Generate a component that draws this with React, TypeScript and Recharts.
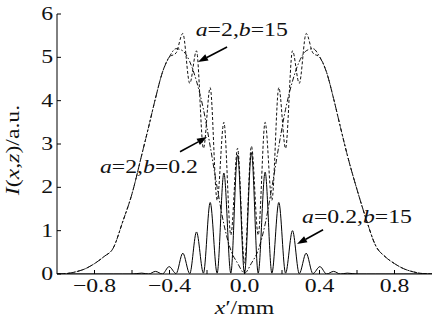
import { LineChart, Line, XAxis, YAxis, ReferenceLine, ReferenceDot } from "recharts";

// x' positions (mm)
const xs = [
  -1.0, -0.95, -0.9, -0.85, -0.8, -0.75, -0.7, -0.65, -0.6,
  -0.548, -0.511, -0.475, -0.438, -0.402, -0.365, -0.329, -0.292, -0.256,
  -0.219, -0.183, -0.146, -0.11, -0.073, -0.037, 0, 0.037, 0.073, 0.11,
  0.146, 0.183, 0.219, 0.256, 0.292, 0.329, 0.365, 0.402, 0.438, 0.475,
  0.511, 0.548, 0.6, 0.65, 0.7, 0.75, 0.8, 0.85, 0.9, 0.95, 1.0,
];

// a=2, b=0.2 (dash-dot)
const iA = [
  0, 0.01, 0.05, 0.12, 0.24, 0.4, 0.6, 1.2, 1.85,
  2.75, 3.4, 4.05, 4.65, 5.0, 5.2, 5.15, 4.9, 4.45,
  3.8, 2.95, 2.0, 1.15, 0.55, 0.25, 0.02, 0.25, 0.55, 1.15,
  2.0, 2.95, 3.8, 4.45, 4.9, 5.15, 5.2, 5.0, 4.65, 4.05,
  3.4, 2.75, 1.95, 1.25, 0.65, 0.4, 0.24, 0.12, 0.05, 0.01, 0,
];

// a=2, b=15 (dotted)
const iB = [
  0, 0.01, 0.05, 0.12, 0.24, 0.4, 0.6, 1.2, 1.85,
  2.75, 3.4, 4.05, 4.65, 5.0, 5.1, 5.55, 4.4, 5.15,
  2.9, 4.3, 1.7, 3.5, 0.9, 2.9, 0.25, 2.95, 0.9, 3.5,
  1.7, 4.3, 2.9, 5.15, 4.4, 5.55, 5.1, 5.0, 4.65, 4.05,
  3.4, 2.75, 1.95, 1.25, 0.65, 0.4, 0.24, 0.12, 0.05, 0.01, 0,
];

// a=0.2, b=15 (solid)
const iC = [
  0, 0, 0, 0, 0, 0, 0, 0, 0,
  0.02, 0, 0.06, 0, 0.17, 0.01, 0.48, 0.01, 0.97,
  0.02, 1.65, 0.02, 2.33, 0.02, 2.75, 0.02, 2.8, 0.02, 2.35,
  0.02, 1.65, 0.02, 1.0, 0.01, 0.48, 0.01, 0.17, 0, 0.06,
  0, 0.02, 0, 0, 0, 0, 0, 0, 0, 0, 0,
];

const xTicks = [-0.8, -0.6, -0.4, -0.2, 0, 0.2, 0.4, 0.6, 0.8];
const xTickLabels = ["−0.8", "", "−0.4", "", "0.0", "", "0.4", "", "0.8"];
const yTicks = [0, 1, 2, 3, 4, 5, 6];
const yTickLabels = ["0", "1", "2", "3", "4", "5", "6"];

// annotations: label parts (italic flag), label anchor, arrow start/end
const noteParts = [
  [["a", true], ["=2,", false], ["b", true], ["=15", false]],
  [["a", true], ["=2,", false], ["b", true], ["=0.2", false]],
  [["a", true], ["=0.2,", false], ["b", true], ["=15", false]],
];
const noteAt = [
  { x: -0.26, y: 5.49 },
  { x: -0.771, y: 2.33 },
  { x: 0.307, y: 1.18 },
];
const arrowFrom = [
  { x: -0.093, y: 5.24 },
  { x: -0.344, y: 2.82 },
  { x: 0.419, y: 1.02 },
];
const arrowTo = [
  { x: -0.248, y: 4.89 },
  { x: -0.2, y: 3.16 },
  { x: 0.28, y: 0.69 },
];

const data = xs.map((x, i) => ({ x, a: iA[i], b: iB[i], c: iC[i] }));

const FONT = '"Liberation Serif", "Times New Roman", serif';
const FS = 19;
const STRETCH = 1.25;
const TICK = 4;

const SText = ({ x, y, anchor, rotate, children }: any) => (
  <g transform={`translate(${x},${y})${rotate ? " rotate(-90)" : ""} scale(${STRETCH},1)`}>
    <text x={0} y={0} textAnchor={anchor} fontFamily={FONT} fontSize={FS} fill="#111">
      {children}
    </text>
  </g>
);

const BottomTick = (props: any) => {
  const { x, y, index } = props;
  return (
    <g>
      <line x1={x} y1={y} x2={x} y2={y - TICK} stroke="#000" />
      <SText x={x} y={y + 18} anchor="middle">{xTickLabels[index]}</SText>
    </g>
  );
};

const TopTick = (props: any) => {
  const { x, y } = props;
  return <line x1={x} y1={y} x2={x} y2={y + TICK} stroke="#000" />;
};

const LeftTick = (props: any) => {
  const { x, y, index } = props;
  return (
    <g>
      <line x1={x} y1={y} x2={x + TICK} y2={y} stroke="#000" />
      <SText x={x - 4} y={y + 6} anchor="end">{yTickLabels[index]}</SText>
    </g>
  );
};

const RightTick = (props: any) => {
  const { x, y } = props;
  return <line x1={x} y1={y} x2={x - TICK} y2={y} stroke="#000" />;
};

const Arrow = (props: any) => {
  const { x1, y1, x2, y2 } = props;
  const ang = Math.atan2(y2 - y1, x2 - x1);
  const len = 10;
  const w = 3.5;
  const bx = x2 - len * Math.cos(ang);
  const by = y2 - len * Math.sin(ang);
  const px = -Math.sin(ang) * w;
  const py = Math.cos(ang) * w;
  return (
    <g>
      <line x1={x1} y1={y1} x2={bx} y2={by} stroke="#000" strokeWidth={1.6} />
      <polygon points={`${x2},${y2} ${bx + px},${by + py} ${bx - px},${by - py}`} fill="#000" />
    </g>
  );
};

const NoteText = (parts: any[]) => (props: any) => (
  <SText x={props.cx} y={props.cy} anchor="start">
    {parts.map((p, i) => (
      <tspan key={i} fontStyle={p[1] ? "italic" : "normal"}>{p[0]}</tspan>
    ))}
  </SText>
);

const YLabel = (props: any) => {
  const vb = props.viewBox;
  return (
    <SText x={vb.x + 19} y={vb.y + vb.height / 2 + 6} anchor="middle" rotate>
      <tspan fontStyle="italic">I</tspan>(<tspan fontStyle="italic">x</tspan>,
      <tspan fontStyle="italic">z</tspan>)/a.u.
    </SText>
  );
};

const XLabel = (props: any) => {
  const vb = props.viewBox;
  return (
    <SText x={vb.x + vb.width / 2} y={vb.y + 40} anchor="middle">
      <tspan fontStyle="italic">x</tspan>′/mm
    </SText>
  );
};

export default function App() {
  return (
    <div style={{ position: "absolute", left: 0, top: 0, width: 433, height: 322, background: "#fff" }}>
      <LineChart width={433} height={322} data={data} margin={{ top: 14, right: 1, bottom: 0, left: 0 }}>
        <XAxis
          dataKey="x"
          type="number"
          domain={[-1, 1]}
          ticks={xTicks}
          height={48}
          tickSize={0}
          tickMargin={0}
          tickLine={false}
          axisLine={{ stroke: "#000" }}
          tick={<BottomTick />}
          label={{ content: <XLabel /> }}
          allowDataOverflow
        />
        <XAxis
          xAxisId="top"
          orientation="top"
          type="number"
          domain={[-1, 1]}
          ticks={xTicks}
          height={0}
          tickSize={0}
          tickMargin={0}
          tickLine={false}
          axisLine={{ stroke: "#000" }}
          tick={<TopTick />}
          allowDataOverflow
        />
        <YAxis
          type="number"
          domain={[0, 6]}
          ticks={yTicks}
          width={57}
          tickSize={0}
          tickMargin={0}
          tickLine={false}
          axisLine={{ stroke: "#000" }}
          tick={<LeftTick />}
          label={{ content: <YLabel /> }}
          allowDataOverflow
        />
        <YAxis
          yAxisId="right"
          orientation="right"
          type="number"
          domain={[0, 6]}
          ticks={yTicks}
          width={0}
          tickSize={0}
          tickMargin={0}
          tickLine={false}
          axisLine={{ stroke: "#000" }}
          tick={<RightTick />}
          allowDataOverflow
        />
        <Line type="monotone" dataKey="a" stroke="#111" strokeWidth={1} strokeDasharray="5 2 1.5 2" dot={false} isAnimationActive={false} />
        <Line type="monotone" dataKey="b" stroke="#111" strokeWidth={1} strokeDasharray="3 2" dot={false} isAnimationActive={false} />
        <Line type="monotone" dataKey="c" stroke="#000" strokeWidth={1} dot={false} isAnimationActive={false} />
        {noteParts.map((parts, i) => (
          <ReferenceLine
            key={"arrow" + i}
            segment={[arrowFrom[i], arrowTo[i]]}
            ifOverflow="visible"
            shape={(p: any) => <Arrow {...p} />}
          />
        ))}
        {noteParts.map((parts, i) => (
          <ReferenceDot
            key={"note" + i}
            x={noteAt[i].x}
            y={noteAt[i].y}
            r={0}
            ifOverflow="visible"
            shape={NoteText(parts)}
          />
        ))}
      </LineChart>
    </div>
  );
}
